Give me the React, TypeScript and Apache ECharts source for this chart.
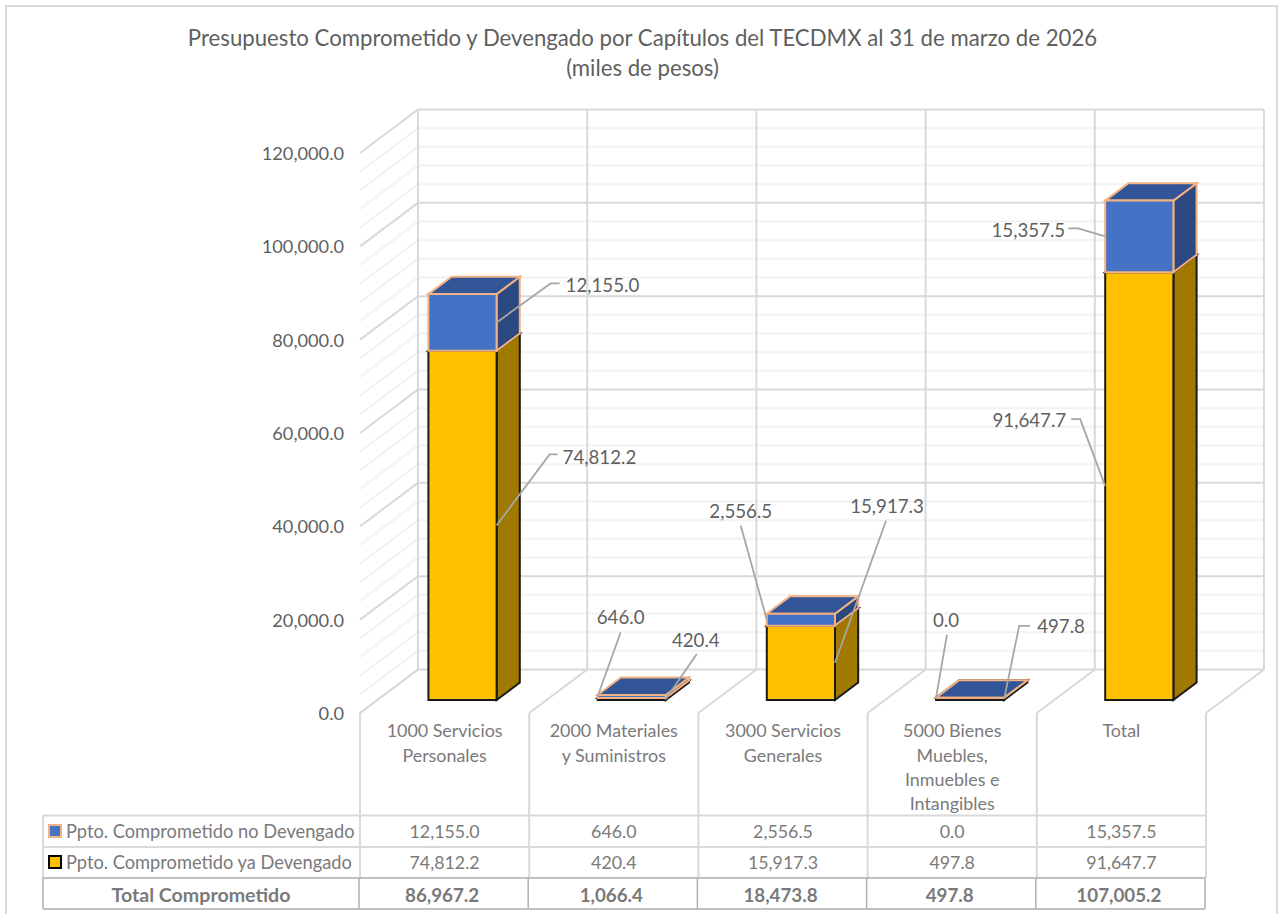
import React, { useEffect, useRef } from "react";
import * as echarts from "echarts";

const categories = [
  "1000 Servicios\nPersonales",
  "2000 Materiales\ny Suministros",
  "3000 Servicios\nGenerales",
  "5000 Bienes\nMuebles,\nInmuebles e\nIntangibles",
  "Total",
];
const noDevengado = [12155.0, 646.0, 2556.5, 0.0, 15357.5];
const yaDevengado = [74812.2, 420.4, 15917.3, 497.8, 91647.7];
const totalComprometido = [86967.2, 1066.4, 18473.8, 497.8, 107005.2];
const seriesNames = ["Ppto. Comprometido no Devengado", "Ppto. Comprometido ya Devengado"];
const totalLabel = "Total Comprometido";
const majorTicks = [0, 20000, 40000, 60000, 80000, 100000, 120000];
const minorTicks = [
  4000, 8000, 12000, 16000, 24000, 28000, 32000, 36000, 44000, 48000, 52000, 56000, 64000, 68000,
  72000, 76000, 84000, 88000, 92000, 96000, 104000, 108000, 112000, 116000,
];
const titleText = "Presupuesto Comprometido y Devengado por Capítulos del TECDMX al 31 de marzo de 2026\n(miles de pesos)";

// layout (pixels)
const G = { left: 360, top: 153, width: 846, height: 560 };
const DEPTH: [number, number] = [58, -43.5];
const BAR_NEAR = 0.3;
const BAR_FAR = 0.7;
const BAR_W = 68.2;
const BAR_SHIFT = 0.5;
const FONT = "Lato, Carlito, sans-serif";
const GRID_MAJOR = "#D9D9D9";
const GRID_MINOR = "#F2F2F2";
const TEXT_DARK = "#5F5F5F";
const TEXT_MID = "#7A7A7A";

type Callout = {
  stack: "top" | "base";
  cat: number;
  side: -1 | 1;
  pts: [number, number][];
  label: [number, number];
  align: "left" | "center" | "right";
};
const callouts: Callout[] = [
  { stack: "top", cat: 0, side: 1, pts: [[54, -39], [63, -39]], label: [69, -37], align: "left" },
  { stack: "base", cat: 0, side: 1, pts: [[53, -71], [61, -71]], label: [66, -68], align: "left" },
  { stack: "top", cat: 1, side: -1, pts: [[23, -64]], label: [23, -79], align: "center" },
  { stack: "base", cat: 1, side: 1, pts: [[31, -45]], label: [30, -59], align: "center" },
  { stack: "top", cat: 2, side: -1, pts: [[-26, -94]], label: [-26, -109], align: "center" },
  { stack: "base", cat: 2, side: 1, pts: [[51, -142]], label: [52, -157], align: "center" },
  { stack: "top", cat: 3, side: -1, pts: [[11, -63]], label: [10, -78], align: "center" },
  { stack: "base", cat: 3, side: 1, pts: [[15, -73], [26, -73]], label: [33, -73], align: "left" },
  { stack: "top", cat: 4, side: -1, pts: [[-27, -8], [-37, -8]], label: [-40, -6], align: "right" },
  { stack: "base", cat: 4, side: -1, pts: [[-25, -67], [-34, -67]], label: [-39, -66], align: "right" },
];

const fmt = (v: number) =>
  v.toLocaleString("en-US", { minimumFractionDigits: 1, maximumFractionDigits: 1 });

function wallLines(color: string, width: number) {
  return (params: any, api: any) => {
    const v = api.value(1);
    const y = api.coord([0, v])[1];
    const cs = params.coordSys;
    const x0 = cs.x;
    const x1 = cs.x + DEPTH[0];
    const x2 = cs.x + cs.width + DEPTH[0];
    const yb = y + DEPTH[1];
    return {
      type: "polyline",
      shape: { points: [[x0, y], [x1, yb], [x2, yb]] },
      style: { stroke: color, lineWidth: width, fill: "none" },
    };
  };
}

function dividers(params: any, api: any) {
  const i = api.value(0);
  const cs = params.coordSys;
  const x = cs.x + (i * cs.width) / categories.length;
  const yFront = cs.y + cs.height;
  return {
    type: "polyline",
    shape: {
      points: [
        [x, yFront],
        [x + DEPTH[0], yFront + DEPTH[1]],
        [x + DEPTH[0], cs.y + DEPTH[1]],
      ],
    },
    style: { stroke: GRID_MAJOR, lineWidth: 2, fill: "none" },
  };
}

function barSegment(front: string, side: string, top: string, border: string) {
  return (_params: any, api: any) => {
    const cat = api.value(0);
    const low = api.coord([cat, api.value(1)]);
    const high = api.coord([cat, api.value(2)]);
    const cx = low[0] + DEPTH[0] * BAR_NEAR + BAR_SHIFT;
    const yl = low[1] + DEPTH[1] * BAR_NEAR;
    const yh = high[1] + DEPTH[1] * BAR_NEAR;
    const xl = cx - BAR_W / 2;
    const xr = cx + BAR_W / 2;
    const dx = DEPTH[0] * (BAR_FAR - BAR_NEAR);
    const dy = DEPTH[1] * (BAR_FAR - BAR_NEAR);
    const st = (fill: string) => ({ fill, stroke: border, lineWidth: 2, lineJoin: "miter" });
    return {
      type: "group",
      children: [
        {
          type: "polygon",
          shape: { points: [[xr, yl], [xr + dx, yl + dy], [xr + dx, yh + dy], [xr, yh]] },
          style: st(side),
        },
        {
          type: "polygon",
          shape: { points: [[xl, yh], [xr, yh], [xr + dx, yh + dy], [xl + dx, yh + dy]] },
          style: st(top),
        },
        {
          type: "polygon",
          shape: { points: [[xl, yl], [xr, yl], [xr, yh], [xl, yh]] },
          style: st(front),
        },
      ],
    };
  };
}

function calloutItem(_params: any, api: any) {
  const c = callouts[api.value(3)];
  const low = api.coord([c.cat, api.value(1)]);
  const high = api.coord([c.cat, api.value(2)]);
  const x = low[0] + DEPTH[0] * BAR_NEAR + BAR_SHIFT + (c.side * BAR_W) / 2;
  const y = (low[1] + high[1]) / 2 + DEPTH[1] * BAR_NEAR;
  const value = api.value(2) - api.value(1);
  return {
    type: "group",
    children: [
      {
        type: "polyline",
        shape: { points: [[x, y], ...c.pts.map((p) => [x + p[0], y + p[1]])] },
        style: { stroke: "#A6A6A6", lineWidth: 1.8, fill: "none" },
      },
      {
        type: "text",
        style: {
          text: fmt(value),
          x: x + c.label[0],
          y: y + c.label[1],
          textAlign: c.align,
          textVerticalAlign: "middle",
          fontFamily: FONT,
          fontSize: 18.7,
          fill: TEXT_DARK,
        },
      },
    ],
  };
}

function tableGraphics() {
  const els: any[] = [];
  const colX = categories.map((_, i) => G.left + (i * G.width) / categories.length);
  colX.push(G.left + G.width);
  const rowY = [815.5, 847, 878, 909];
  const tableLeft = 43;
  const line = (x1: number, y1: number, x2: number, y2: number, stroke: string, w = 2) => ({
    type: "line",
    silent: true,
    shape: { x1, y1, x2, y2 },
    style: { stroke, lineWidth: w },
  });
  const text = (t: string, x: number, y: number, align: string, bold = false, fill = TEXT_MID, size = 17.8) => ({
    type: "text",
    silent: true,
    style: {
      text: t,
      x,
      y,
      textAlign: align,
      textVerticalAlign: "middle",
      fontFamily: FONT,
      fontSize: size,
      fontWeight: bold ? "bold" : "normal",
      fill,
    },
  });
  // outer frame
  els.push({
    type: "polyline",
    silent: true,
    shape: { points: [[6, 914], [6, 6], [1277, 6], [1277, 914]] },
    style: { stroke: "#D9D9D9", lineWidth: 2, fill: "none" },
  });
  const bottom = G.top + G.height;
  colX.forEach((x) => els.push(line(x, bottom, x, rowY[2], GRID_MAJOR)));
  els.push(line(tableLeft, rowY[0], tableLeft, rowY[2], GRID_MAJOR));
  els.push(line(tableLeft, rowY[0], colX[5], rowY[0], GRID_MAJOR));
  els.push(line(tableLeft, rowY[1], colX[5], rowY[1], GRID_MAJOR));
  // total row
  const gray = "#ABABAB";
  els.push(line(tableLeft, rowY[2], colX[5] - 1, rowY[2], gray, 1.4));
  els.push(line(tableLeft, rowY[3], colX[5] - 1, rowY[3], gray, 1.4));
  els.push(line(tableLeft, rowY[2], tableLeft, rowY[3], gray, 1.4));
  colX.forEach((x) => els.push(line(x - 1, rowY[2], x - 1, rowY[3], gray, 1.4)));
  // legend keys
  els.push({
    type: "rect",
    silent: true,
    shape: { x: 49, y: 825, width: 12, height: 12 },
    style: { fill: "#4472C4", stroke: "#F4B183", lineWidth: 2 },
  });
  els.push({
    type: "rect",
    silent: true,
    shape: { x: 49, y: 856, width: 12, height: 12 },
    style: { fill: "#FFC000", stroke: "#000000", lineWidth: 2 },
  });
  els.push(text(seriesNames[0], 66, 831, "left", false, TEXT_MID, 18.25));
  els.push(text(seriesNames[1], 66, 862, "left", false, TEXT_MID, 18.25));
  els.push(text(totalLabel, 201, 894.5, "center", true, TEXT_MID, 19.6));
  categories.forEach((_, i) => {
    const cx = (colX[i] + colX[i + 1]) / 2;
    els.push(text(fmt(noDevengado[i]), cx, 831, "center"));
    els.push(text(fmt(yaDevengado[i]), cx, 862, "center"));
    els.push(text(fmt(totalComprometido[i]), cx - 2.5, 894.5, "center", true, TEXT_MID, 18.8));
  });
  return els;
}

export default function App() {
  const ref = useRef<HTMLDivElement>(null);
  useEffect(() => {
    if (!ref.current) return;
    const chart = echarts.init(ref.current, undefined, { renderer: "svg" });
    const stackOf = (c: Callout) =>
      c.stack === "base"
        ? [0, yaDevengado[c.cat]]
        : [yaDevengado[c.cat], yaDevengado[c.cat] + noDevengado[c.cat]];
    const custom = (name: string, data: any[], renderItem: any, z: number) => ({
      type: "custom",
      name,
      data,
      renderItem,
      z,
      silent: true,
      coordinateSystem: "cartesian2d",
      encode: { x: 0, y: 1 },
      clip: false,
    });
    chart.setOption({
      animation: false,
      backgroundColor: "#FFFFFF",
      textStyle: { fontFamily: FONT },
      title: {
        text: titleText,
        left: 637.5,
        top: 17,
        textAlign: "center",
        textStyle: {
          fontFamily: FONT,
          fontSize: 22.2,
          fontWeight: "normal",
          color: TEXT_DARK,
          lineHeight: 30,
        },
      },
      grid: { left: G.left, top: G.top, width: G.width, height: G.height, containLabel: false },
      xAxis: {
        type: "category",
        data: categories,
        axisLine: { show: false },
        axisTick: { show: false },
        splitLine: { show: false },
        axisLabel: {
          interval: 0,
          margin: 5,
          fontFamily: FONT,
          fontSize: 17.9,
          lineHeight: 24.4,
          color: TEXT_MID,
          verticalAlign: "top",
        },
      },
      yAxis: {
        type: "value",
        min: 0,
        max: 120000,
        interval: 20000,
        axisLine: { show: false },
        axisTick: { show: false },
        splitLine: { show: false },
        axisLabel: {
          margin: 16,
          fontFamily: FONT,
          fontSize: 18.2,
          color: TEXT_DARK,
          formatter: (v: number) => fmt(v),
        },
      },
      series: [
        custom("minor", minorTicks.map((v) => [0, v]), wallLines(GRID_MINOR, 2), 1),
        custom("major", majorTicks.map((v) => [0, v]), wallLines(GRID_MAJOR, 2), 2),
        custom("dividers", [0, 1, 2, 3, 4, 5].map((i) => [i, 0]), dividers, 3),
        custom(
          seriesNames[1],
          yaDevengado.map((v, i) => [i, 0, v]),
          barSegment("#FFC000", "#A07A00", "#BF9000", "#1A1A1A"),
          4
        ),
        custom(
          seriesNames[0],
          noDevengado.map((v, i) => [i, yaDevengado[i], yaDevengado[i] + v]),
          barSegment("#4472C4", "#2B4880", "#315597", "#F4B183"),
          5
        ),
        custom(
          "callouts",
          callouts.map((c, idx) => [c.cat, stackOf(c)[0], stackOf(c)[1], idx]),
          calloutItem,
          6
        ),
      ],
      graphic: { elements: tableGraphics() },
    });
    return () => chart.dispose();
  }, []);
  return <div ref={ref} style={{ position: "absolute", left: 0, top: 0, width: 1279, height: 914 }} />;
}
